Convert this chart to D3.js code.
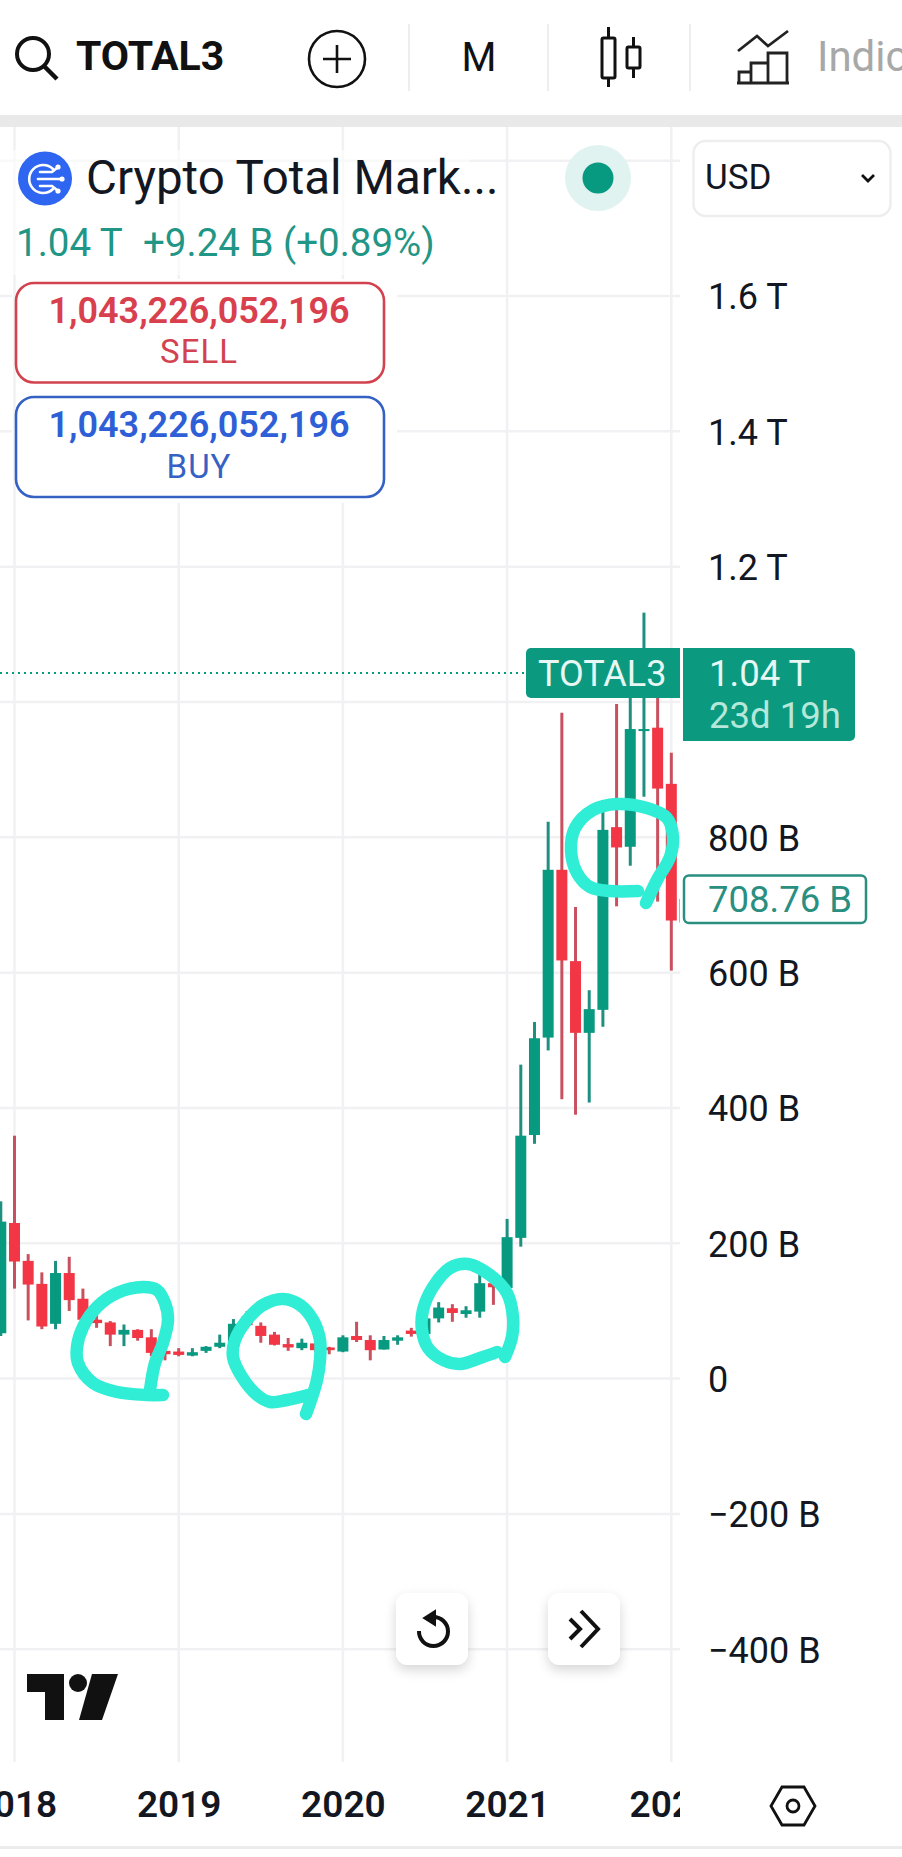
<!DOCTYPE html>
<html>
<head>
<meta charset="utf-8">
<style>
html,body{margin:0;padding:0;background:#fff;overflow:hidden}
svg{display:block}
text{font-family:Roboto,"Noto Sans",sans-serif}
</style>
<script src="https://cdn.jsdelivr.net/npm/d3@7/dist/d3.min.js"></script>
</head>
<body>
<svg id="c" width="902" height="1857"></svg>
<script>
// ---- data: monthly TOTAL3 candles, in billions of USD
const months = ["2017-12","2018-01","2018-02","2018-03","2018-04","2018-05","2018-06","2018-07","2018-08","2018-09","2018-10","2018-11","2018-12",
"2019-01","2019-02","2019-03","2019-04","2019-05","2019-06","2019-07","2019-08","2019-09","2019-10","2019-11","2019-12",
"2020-01","2020-02","2020-03","2020-04","2020-05","2020-06","2020-07","2020-08","2020-09","2020-10","2020-11","2020-12",
"2021-01","2021-02","2021-03","2021-04","2021-05","2021-06","2021-07","2021-08","2021-09","2021-10","2021-11","2021-12",
"2022-01","2022-02"];
const opens  = [67,230,174,140,81,156,118,87,83,65,72,61,41, 40,34,41,47,52,92,78,65,51,45,52,46, 40,63,57,43,56,71,66,89,104,95.5,99,141, 134,208,360,504,752,617,511,545,815,786,957,962, 879,674];
const highs  = [262,359,184,157,174,180,133,99,85,80,73,73,42, 45,45,48,65,88,100,83,69,60,59,56,47, 64,84,64,63,64,75,91,113,110,107,156,143, 236,464,527,823,984,697,574,855,997,1047,1132,1062, 925,709];
const lows   = [63,133,86,73,73,100,82,75,48,48,56,33,27, 33,33,38,45,51,74,53,49,41,42,39,36, 39,54,27,43,50,62,64,83,84,90,90,109, 131,195,347,485,413,390,408,520,698,758,860,705, 603,674];
const closes = [232,173,139,77,156,116,87,82,65,72,60,38,36, 35,39,47,53,81,79,63,50,46,53,42,42, 61,57,42,57,61,66,89,105,97,101,141,135, 209,359,503,752,618,511,546,811,785,960,960,872, 677,709];
const priceTicks = [1800,1600,1400,1200,1000,800,600,400,200,0,-200,-400];
const hiddenPriceLabels = [1800,1000];
const yearTicks = ["2018-01","2019-01","2020-01","2021-01","2022-01"];
const lastPrice = 1043;

// ---- annotation strokes drawn by hand on the screenshot
const scribbles = [
 [[163,1395],[147,1395],[117,1392],[93,1383],[78,1363],[77,1347],[83,1327],[97,1307],[117,1293],[143,1287],[157,1290],[165,1303],[168,1320],[163,1343],[155,1363],[150,1390]],
 [[306,1414],[312,1397],[317,1380],[320,1360],[320,1340],[313,1320],[300,1305],[283,1299],[263,1305],[247,1320],[235,1340],[233,1357],[242,1377],[257,1395],[270,1402],[287,1400],[308,1395]],
 [[505,1357],[512,1337],[513,1317],[507,1293],[490,1275],[468,1264],[450,1268],[433,1287],[423,1310],[422,1330],[428,1348],[443,1360],[460,1364],[480,1358],[497,1352]],
 [[646,903],[657,880],[670,857],[673,837],[667,818],[647,808],[617,804],[593,810],[575,828],[571,850],[577,873],[590,887],[610,891],[638,891]]
];

const GREEN="#089981", RED="#f23645", GW="#1f8f80", RW="#c9505f", INK="#131722", GRID="#f1f1f3";
const svg=d3.select("#c");
const defs=svg.append("defs");
defs.append("clipPath").attr("id","plot").append("rect").attr("x",0).attr("y",127).attr("width",680).attr("height",1635);
defs.append("clipPath").attr("id","xa").append("rect").attr("x",0).attr("y",1762).attr("width",680).attr("height",80);
const sh=defs.append("filter").attr("id","sh").attr("x","-30%").attr("y","-30%").attr("width","160%").attr("height","170%");
sh.append("feDropShadow").attr("dx",0).attr("dy",5).attr("stdDeviation",6).attr("flood-color","#000").attr("flood-opacity",.16);

const x=d3.scalePoint().domain(months).range([0.8,685]);
const y=d3.scaleLinear().domain([0,1600]).range([1378.6,296]);

// grid
const grid=svg.append("g").attr("clip-path","url(#plot)");
grid.selectAll("line.h").data(priceTicks).join("line").attr("x1",0).attr("x2",680)
 .attr("y1",d=>y(d)).attr("y2",d=>y(d)).attr("stroke",GRID).attr("stroke-width",2.5);
grid.selectAll("line.v").data(yearTicks).join("line").attr("x1",d=>x(d)).attr("x2",d=>x(d))
 .attr("y1",127).attr("y2",1762).attr("stroke",GRID).attr("stroke-width",2.5);

// dotted last-price line
svg.append("line").attr("x1",0).attr("x2",526).attr("y1",y(lastPrice)).attr("y2",y(lastPrice))
 .attr("stroke",GREEN).attr("stroke-width",2).attr("stroke-dasharray","2 4");

// candles
const rows=months.map((m,i)=>({m,o:opens[i],h:highs[i],l:lows[i],c:closes[i]}));
const cg=svg.append("g").attr("clip-path","url(#plot)");
cg.selectAll("line").data(rows).join("line").attr("x1",d=>x(d.m)).attr("x2",d=>x(d.m))
 .attr("y1",d=>y(d.h)).attr("y2",d=>y(d.l)).attr("stroke-width",3)
 .attr("stroke",d=>d.c>=d.o?GW:RW);
cg.selectAll("rect").data(rows).join("rect").attr("x",d=>x(d.m)-5.5).attr("width",11)
 .attr("y",d=>y(Math.max(d.o,d.c))).attr("height",d=>Math.max(2,Math.abs(y(d.o)-y(d.c))))
 .attr("fill",d=>d.c>=d.o?GREEN:RED);

// hand-drawn circles
const sl=d3.line().curve(d3.curveCatmullRom.alpha(.5));
svg.append("g").selectAll("path").data(scribbles).join("path").attr("d",sl)
 .attr("fill","none").attr("stroke","#30edd5").attr("stroke-width",12.5)
 .attr("stroke-linecap","round").attr("stroke-linejoin","round");

// axes
const fmt=v=>{const a=Math.abs(v);const s=a>=1000?(a/1000).toFixed(1)+" T":a===0?"0":a+" B";return (v<0?"\u2212":"")+s;};
const ya=svg.append("g").attr("transform","translate(708,0)")
 .call(d3.axisRight(y).tickValues(priceTicks.filter(t=>!hiddenPriceLabels.includes(t))).tickSize(0).tickPadding(0).tickFormat(fmt));
ya.select(".domain").remove();
ya.selectAll("text").attr("font-family","Roboto").attr("font-size",36).attr("fill",INK).attr("dy","0.36em");
const xa=svg.append("g").attr("clip-path","url(#xa)").append("g").attr("transform","translate(0,1817)")
 .call(d3.axisBottom(x).tickValues(yearTicks).tickSize(0).tickPadding(0).tickFormat(d=>d.slice(0,4)));
xa.select(".domain").remove();
xa.selectAll("text").attr("font-family","Roboto").attr("font-size",37).attr("font-weight",600).attr("fill",INK).attr("dy",0);

function T(t,xp,yp,size,fill,weight,anchor){return svg.append("text").text(t).attr("x",xp).attr("y",yp).attr("font-size",size).attr("fill",fill).attr("font-weight",weight||400).attr("text-anchor",anchor||"start");}

// top toolbar
svg.append("rect").attr("x",0).attr("y",115).attr("width",902).attr("height",12).attr("fill","#e9e9ea");
svg.append("circle").attr("cx",33).attr("cy",54).attr("r",16).attr("fill","none").attr("stroke","#111").attr("stroke-width",4);
svg.append("line").attr("x1",44).attr("y1",66).attr("x2",57).attr("y2",79).attr("stroke","#111").attr("stroke-width",4.5);
T("TOTAL3",76,70,41,"#111",700);
svg.append("circle").attr("cx",337).attr("cy",59).attr("r",28).attr("fill","none").attr("stroke","#111").attr("stroke-width",2.6);
svg.append("path").attr("d","M323 59H351M337 45V73").attr("stroke","#111").attr("stroke-width",2.6);
[409,548,690].forEach(v=>svg.append("line").attr("x1",v).attr("x2",v).attr("y1",24).attr("y2",91).attr("stroke","#eeeeee").attr("stroke-width",2));
T("M",479,71,40,"#111",400,"middle");
svg.append("path").attr("d","M608.5 27V37M608.5 78V87M633.5 37V47M633.5 68V78").attr("stroke","#111").attr("stroke-width",3).attr("fill","none");
svg.append("rect").attr("x",602).attr("y",38).attr("width",13).attr("height",40).attr("rx",1.5).attr("fill","none").attr("stroke","#111").attr("stroke-width",3);
svg.append("rect").attr("x",627).attr("y",47).attr("width",13).attr("height",21).attr("rx",1.5).attr("fill","none").attr("stroke","#111").attr("stroke-width",3);
svg.append("path").attr("d","M738 51L757 36L768 46L788 31").attr("fill","none").attr("stroke","#222").attr("stroke-width",2.8);
svg.append("path").attr("d","M739 83V72H751V83M751 83V63H768V83M768 83V53H787V83M737 83H789").attr("fill","none").attr("stroke","#222").attr("stroke-width",2.8);
T("Indicators",817,71,42,"#a8a8a8");

// legend
svg.append("rect").attr("x",0).attr("y",150).attr("width",470).attr("height",125).attr("fill","#fff").attr("opacity",.6);
svg.append("circle").attr("cx",45).attr("cy",178.5).attr("r",27).attr("fill","#2e66f2");
const lg=svg.append("g").attr("fill","none").attr("stroke","#fff").attr("stroke-width",2.6).attr("stroke-linecap","round");
lg.append("path").attr("d","M53 169A14 14 0 1 0 53 189");
lg.append("path").attr("d","M40 172H52L57 168M38 179H60M40 186H52L57 190");
svg.append("g").attr("fill","#fff").selectAll("circle").data([[58,167],[62,179],[58,191]]).join("circle").attr("cx",d=>d[0]).attr("cy",d=>d[1]).attr("r",2.6);
T("Crypto Total Mark...",86,194,47.5,INK);
svg.append("circle").attr("cx",598).attr("cy",178).attr("r",33).attr("fill","#e0f3f0");
svg.append("circle").attr("cx",598).attr("cy",178).attr("r",15.5).attr("fill",GREEN);
T("1.04 T",16,256,38.5,"#1f9686");
T("+9.24 B (+0.89%)",143,256,38.5,"#1f9686");

// select
svg.append("rect").attr("x",693.5).attr("y",141).attr("width",197).attr("height",75).attr("rx",12).attr("fill","#fff").attr("stroke","#eeeef0").attr("stroke-width",2.5);
T("USD",705,189,35,INK);
svg.append("path").attr("d","M862 175L868 181L874 175").attr("fill","none").attr("stroke","#111").attr("stroke-width",2.8);

// sell / buy boxes
svg.append("rect").attr("x",0).attr("y",279).attr("width",397).attr("height",224).attr("fill","#fff");
svg.append("line").attr("x1",0).attr("x2",12).attr("y1",y(1600)).attr("y2",y(1600)).attr("stroke",GRID).attr("stroke-width",2.5);
svg.append("line").attr("x1",0).attr("x2",12).attr("y1",y(1400)).attr("y2",y(1400)).attr("stroke",GRID).attr("stroke-width",2.5);
svg.append("line").attr("x1",x("2018-01")).attr("x2",x("2018-01")).attr("y1",279).attr("y2",503).attr("stroke",GRID).attr("stroke-width",2.5);
svg.append("rect").attr("x",16).attr("y",283).attr("width",368).attr("height",99.5).attr("rx",18).attr("fill","#fff").attr("stroke","#d2434f").attr("stroke-width",2.6);
T("1,043,226,052,196",199,323,36,"#d9404e",600,"middle");
T("SELL",199,363,33,"#d2434f",400,"middle").attr("letter-spacing",1);
svg.append("rect").attr("x",16).attr("y",397).attr("width",368).attr("height",100).attr("rx",18).attr("fill","#fff").attr("stroke","#3561c4").attr("stroke-width",2.6);
T("1,043,226,052,196",199,437,36,"#2f5fd6",600,"middle");
T("BUY",199,478,33,"#3561c4",400,"middle").attr("letter-spacing",1);

// price tags
svg.append("path").attr("d","M531 648H680V698H531A5 5 0 0 1 526 693V653A5 5 0 0 1 531 648Z").attr("fill","#0b9a80");
T("TOTAL3",538,686,36,"#e7f7f3");
svg.append("path").attr("d","M683 648H850A5 5 0 0 1 855 653V736A5 5 0 0 1 850 741H683Z").attr("fill","#0b9a80");
T("1.04 T",709,686,36.5,"#e7f7f3");
T("23d 19h",709,728,36.5,"#b5e8da");
svg.append("rect").attr("x",684).attr("y",875.5).attr("width",182).attr("height",47.5).attr("rx",5).attr("fill","#fff").attr("stroke","#2a8f80").attr("stroke-width",2.5);
T("708.76 B",708,912,36.5,"#2a8f80");

// watermark logo
svg.append("path").attr("d","M27 1674H64V1720H45V1692H27Z").attr("fill","#111");
svg.append("ellipse").attr("cx",78).attr("cy",1683).attr("rx",9).attr("ry",9).attr("fill","#111");
svg.append("path").attr("d","M92 1674H118L102 1720H79Z").attr("fill","#111");

// floating buttons
[[396],[548]].forEach(b=>svg.append("rect").attr("x",b[0]).attr("y",1593).attr("width",72).attr("height",72).attr("rx",12).attr("fill","#fff").attr("filter","url(#sh)"));
svg.append("path").attr("d","M433 1617A14.5 14.5 0 1 1 419 1631").attr("fill","none").attr("stroke","#111").attr("stroke-width",4);
svg.append("path").attr("d","M424 1618L435 1611V1625Z").attr("fill","#111").attr("stroke","#111").attr("stroke-width",2);
svg.append("path").attr("d","M570 1619L580 1629L570 1639M581 1611L598 1629L581 1647").attr("fill","none").attr("stroke","#111").attr("stroke-width",4);

// settings hexagon
svg.append("path").attr("d","M782 1787H804L815 1806L804 1825H782L771 1806Z").attr("fill","none").attr("stroke","#111").attr("stroke-width",2.8);
svg.append("circle").attr("cx",793).attr("cy",1806).attr("r",6).attr("fill","none").attr("stroke","#111").attr("stroke-width",2.8);

// bottom rule
svg.append("rect").attr("x",0).attr("y",1846).attr("width",902).attr("height",3).attr("fill","#ececec");
</script>
</body>
</html>
